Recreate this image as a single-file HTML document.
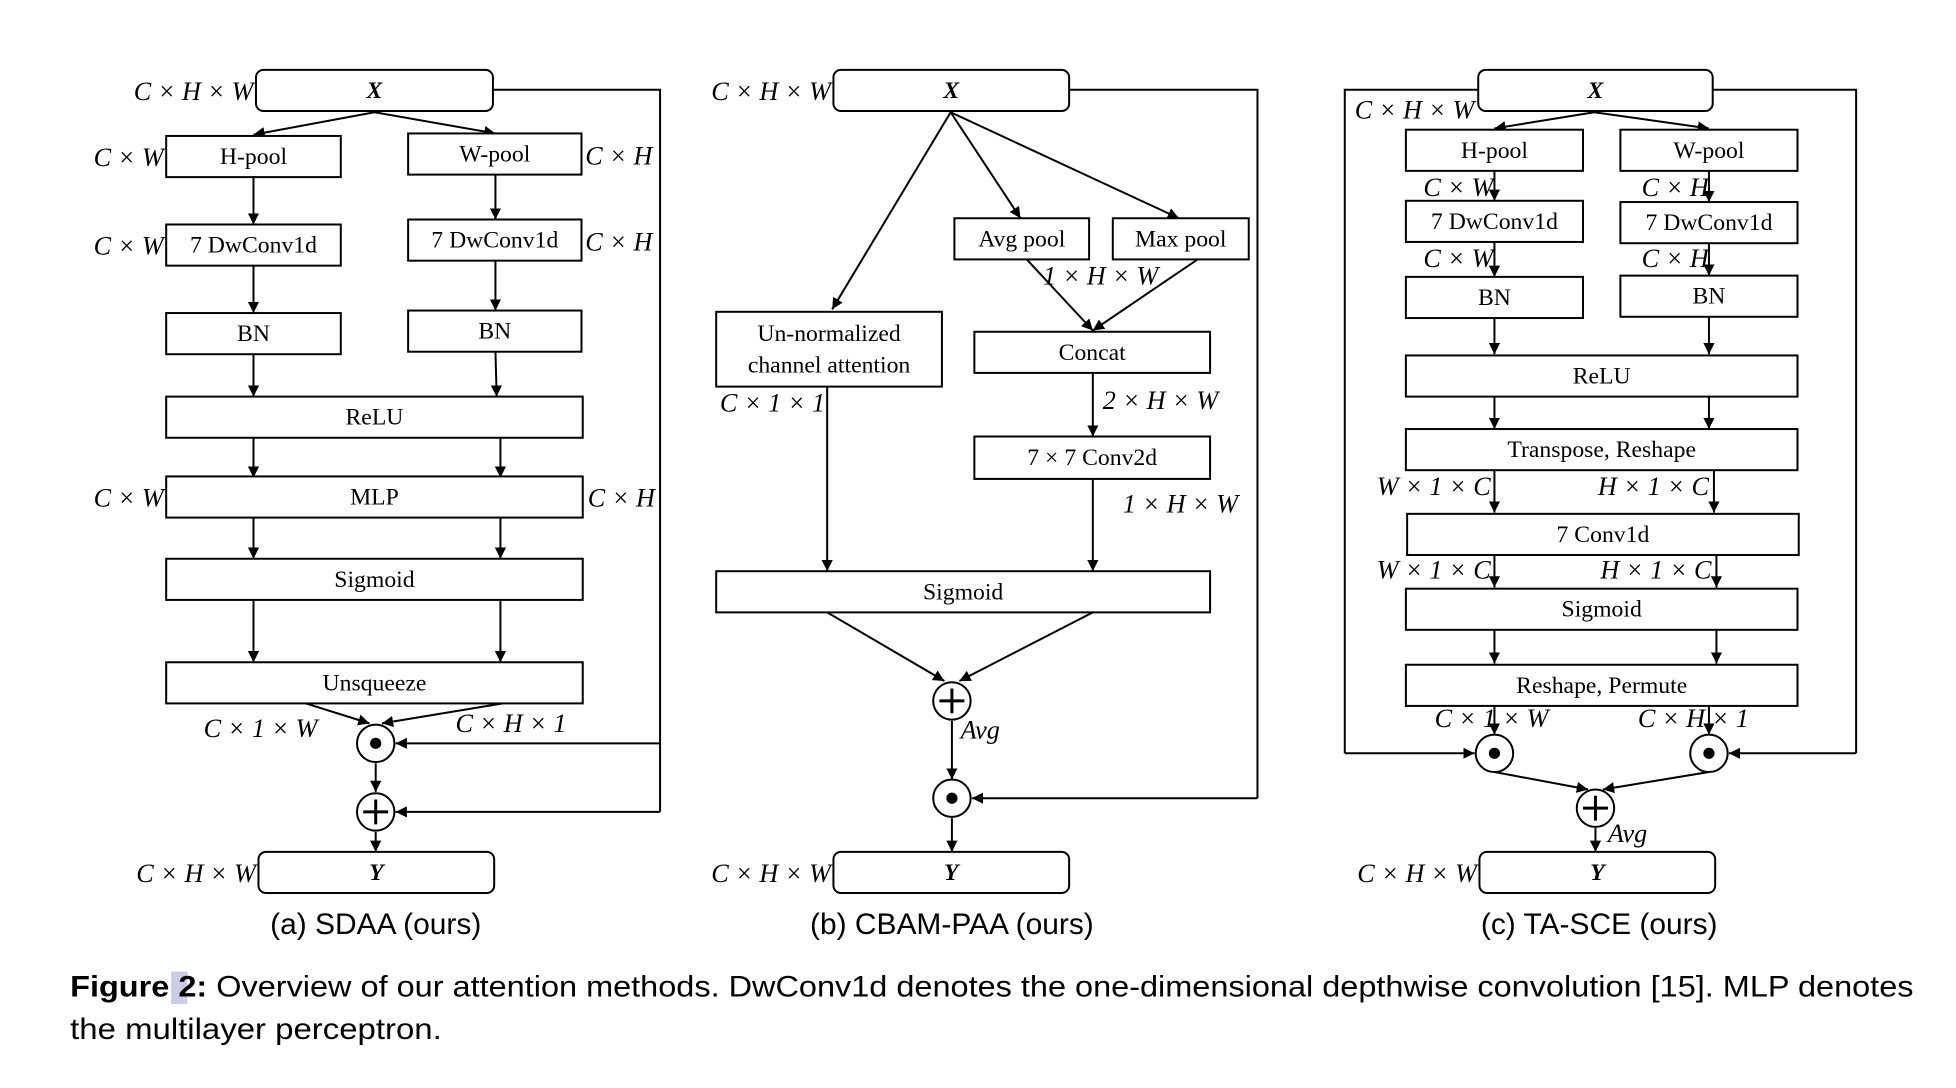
<!DOCTYPE html>
<html><head><meta charset="utf-8">
<style>
html,body{margin:0;padding:0;background:#fff;}
svg{display:block;}
.bx{font-family:"Liberation Serif",serif;font-size:19px;fill:#000;}
.lb{font-family:"Liberation Serif",serif;font-style:italic;font-size:21px;fill:#000;}
.cap{font-family:"Liberation Sans",sans-serif;font-size:24px;fill:#000;}
</style></head>
<body>
<svg id="fig" width="1956" height="1088" viewBox="0 0 1560 868" xmlns="http://www.w3.org/2000/svg">
<defs><marker id="ah" viewBox="0 0 10 10" refX="10" refY="5" markerWidth="9" markerHeight="9" markerUnits="userSpaceOnUse" orient="auto"><path d="M0,0 L10,5 L0,10 z" fill="#000"/></marker></defs>
<g id="root" transform="scale(0.995)"></g>
</svg>
<script>
const NS='http://www.w3.org/2000/svg';
const root=document.getElementById('root');
function mk(tag,attrs,name,parent){
  const el=document.createElementNS(NS,tag);
  for(const k in attrs) el.setAttribute(k,attrs[k]);
  
  
  (parent||root).appendChild(el);
  return el;
}
function box(x1,y1,x2,y2,label,name,round,bold){
  const g=mk('g',{},name);
  mk('rect',{x:x1,y:y1,width:x2-x1,height:y2-y1,rx:round?6:0,fill:'#fff',stroke:'#000','stroke-width':1.6},name+'-border',g);
  const lines=label.split('\n');
  const cy=(y1+y2)/2, n=lines.length;
  lines.forEach((t,i)=>{
    const tx=mk('text',{x:(x1+x2)/2,y:cy+6+(i-(n-1)/2)*25,'text-anchor':'middle',class:'bx','font-weight':bold?'bold':'normal','font-style':bold?'italic':'normal'},name+'-label',g);
    tx.textContent=t;
  });
}
function arr(pts,name){
  mk('polyline',{points:pts.map(p=>p.join(',')).join(' '),fill:'none',stroke:'#000','stroke-width':1.6,'marker-end':'url(#ah)'},name);
}
function line(pts,name){
  mk('polyline',{points:pts.map(p=>p.join(',')).join(' '),fill:'none',stroke:'#000','stroke-width':1.6},name);
}
function lab(x,y,t,name,anchor){
  const tx=mk('text',{x:x,y:y,'text-anchor':anchor||'start',class:'lb'},name);
  tx.textContent=t;
}
function dot(cx,cy,name){
  const g=mk('g',{},name);
  mk('circle',{cx:cx,cy:cy,r:15,fill:'#fff',stroke:'#000','stroke-width':1.6},name+'-ring',g);
  mk('circle',{cx:cx,cy:cy,r:4.5,fill:'#000'},name+'-center',g);
}
function plus(cx,cy,name){
  const g=mk('g',{},name);
  mk('circle',{cx:cx,cy:cy,r:15,fill:'#fff',stroke:'#000','stroke-width':1.6},name+'-ring',g);
  mk('path',{d:`M${cx-10},${cy} H${cx+10} M${cx},${cy-10} V${cy+10}`,stroke:'#000','stroke-width':2.4},name+'-cross',g);
}
function cap(x,y,t,name){
  const tx=mk('text',{x:x,y:y,'text-anchor':'middle',class:'cap'},name);
  tx.textContent=t;
}
const T='\u00d7';
/* ---------- Panel (a) SDAA ---------- */
line([[395,72],[529,72],[529,651]],'a-skip-line');
arr([[529,596],[317,596]],'a-skip-to-mul');
arr([[529,651],[317,651]],'a-skip-to-add');
box(205,56,395,89,'X','a-input-x',true,true);
lab(203,80,`C ${T} H ${T} W`,'a-input-shape','end');
arr([[300,90],[203,108]],'a-arrow-x-hpool');
arr([[300,90],[397,107]],'a-arrow-x-wpool');
box(133,109,273,142,'H-pool','a-hpool');
box(327,107,466,140,'W-pool','a-wpool');
lab(131,133,`C ${T} W`,'a-hpool-shape','end');
lab(469,132,`C ${T} H`,'a-wpool-shape');
arr([[203,142],[203,180]],'a-arrow-h1');
arr([[397,140],[397,176]],'a-arrow-w1');
box(133,180,273,213,'7 DwConv1d','a-dwconv-h');
box(327,176,466,209,'7 DwConv1d','a-dwconv-w');
lab(131,204,`C ${T} W`,'a-dwconv-h-shape','end');
lab(469,201,`C ${T} H`,'a-dwconv-w-shape');
arr([[203,213],[203,251]],'a-arrow-h2');
arr([[397,209],[397,249]],'a-arrow-w2');
box(133,251,273,284,'BN','a-bn-h');
box(327,249,466,282,'BN','a-bn-w');
arr([[203,284],[203,318]],'a-arrow-h3');
arr([[397,282],[398,318]],'a-arrow-w3');
box(133,318,467,351,'ReLU','a-relu');
arr([[203,351],[203,383]],'a-arrow-h4');
arr([[401,351],[401,383]],'a-arrow-w4');
box(133,382,467,415,'MLP','a-mlp');
lab(131,406,`C ${T} W`,'a-mlp-shape-left','end');
lab(471,406,`C ${T} H`,'a-mlp-shape-right');
arr([[203,415],[203,448]],'a-arrow-h5');
arr([[401,415],[401,448]],'a-arrow-w5');
box(133,448,467,481,'Sigmoid','a-sigmoid');
arr([[203,481],[203,531]],'a-arrow-h6');
arr([[401,481],[401,531]],'a-arrow-w6');
box(133,531,467,564,'Unsqueeze','a-unsqueeze');
arr([[245,564],[296,580]],'a-arrow-unsq-left');
arr([[403,564],[306,580]],'a-arrow-unsq-right');
lab(163,591,`C ${T} 1 ${T} W`,'a-shape-c1w');
lab(365,587,`C ${T} H ${T} 1`,'a-shape-ch1');
dot(301,596,'a-multiply');
arr([[301,612],[301,635]],'a-arrow-mul-add');
plus(301,651,'a-add');
arr([[301,667],[301,683]],'a-arrow-add-y');
box(207,683,396,716,'Y','a-output-y',true,true);
lab(205,707,`C ${T} H ${T} W`,'a-output-shape','end');
cap(301,749,'(a) SDAA (ours)','a-caption');
/* ---------- Panel (b) CBAM-PAA ---------- */
line([[857,72],[1008,72],[1008,640]],'b-skip-line');
arr([[1008,640],[779,640]],'b-skip-to-mul');
box(668,56,857,89,'X','b-input-x',true,true);
lab(666,80,`C ${T} H ${T} W`,'b-input-shape','end');
arr([[762,90],[667,248]],'b-arrow-x-channel');
arr([[762,90],[818,175]],'b-arrow-x-avgpool');
arr([[762,90],[945,175]],'b-arrow-x-maxpool');
box(765,175,873,208,'Avg pool','b-avgpool');
box(892,175,1001,208,'Max pool','b-maxpool');
arr([[823,208],[876,265]],'b-arrow-avg-concat');
arr([[960,208],[876,265]],'b-arrow-max-concat');
lab(836,228,`1 ${T} H ${T} W`,'b-pool-shape');
box(574,250,755,310,'Un-normalized\nchannel attention','b-channel-attention');
lab(577,330,`C ${T} 1 ${T} 1`,'b-channel-shape');
arr([[663,310],[663,458]],'b-arrow-channel-sigmoid');
box(781,266,970,299,'Concat','b-concat');
arr([[876,299],[876,350]],'b-arrow-concat-conv');
lab(884,328,`2 ${T} H ${T} W`,'b-concat-shape');
box(781,350,970,384,`7 ${T} 7 Conv2d`,'b-conv2d');
arr([[876,384],[876,458]],'b-arrow-conv-sigmoid');
lab(900,411,`1 ${T} H ${T} W`,'b-conv-shape');
box(574,458,970,491,'Sigmoid','b-sigmoid');
arr([[663,491],[757,546]],'b-arrow-sig-add-left');
arr([[876,491],[769,546]],'b-arrow-sig-add-right');
plus(763,562,'b-add-avg');
lab(770,592,'Avg','b-avg-label');
arr([[763,578],[763,625]],'b-arrow-add-mul');
dot(763,640,'b-multiply');
arr([[763,656],[763,683]],'b-arrow-mul-y');
box(668,683,857,716,'Y','b-output-y',true,true);
lab(666,707,`C ${T} H ${T} W`,'b-output-shape','end');
cap(763,749,'(b) CBAM-PAA (ours)','b-caption');
/* ---------- Panel (c) TA-SCE ---------- */
line([[1185,72],[1078,72],[1078,604]],'c-skip-left-line');
arr([[1078,604],[1182,604]],'c-skip-left-arrow');
line([[1373,72],[1488,72],[1488,604]],'c-skip-right-line');
arr([[1488,604],[1386,604]],'c-skip-right-arrow');
box(1185,56,1373,89,'X','c-input-x',true,true);
lab(1086,95,`C ${T} H ${T} W`,'c-input-shape');
arr([[1278,90],[1198,103]],'c-arrow-x-hpool');
arr([[1278,90],[1370,103]],'c-arrow-x-wpool');
box(1127,104,1269,137,'H-pool','c-hpool');
box(1299,104,1441,137,'W-pool','c-wpool');
arr([[1198,137],[1198,161]],'c-arrow-h1');
arr([[1370,137],[1370,162]],'c-arrow-w1');
lab(1141,157,`C ${T} W`,'c-hpool-shape');
lab(1316,157,`C ${T} H`,'c-wpool-shape');
box(1127,161,1269,194,'7 DwConv1d','c-dwconv-h');
box(1299,162,1441,195,'7 DwConv1d','c-dwconv-w');
arr([[1198,194],[1198,222]],'c-arrow-h2');
arr([[1370,195],[1370,221]],'c-arrow-w2');
lab(1141,214,`C ${T} W`,'c-dwconv-h-shape');
lab(1316,214,`C ${T} H`,'c-dwconv-w-shape');
box(1127,222,1269,255,'BN','c-bn-h');
box(1299,221,1441,254,'BN','c-bn-w');
arr([[1198,255],[1198,284]],'c-arrow-h3');
arr([[1370,254],[1370,284]],'c-arrow-w3');
box(1127,285,1441,318,'ReLU','c-relu');
arr([[1198,318],[1198,344]],'c-arrow-h4');
arr([[1370,318],[1370,344]],'c-arrow-w4');
box(1127,344,1441,377,'Transpose, Reshape','c-transpose-reshape');
arr([[1198,377],[1198,411]],'c-arrow-h5');
arr([[1374,377],[1374,411]],'c-arrow-w5');
lab(1195,397,`W ${T} 1 ${T} C`,'c-transpose-shape-left','end');
lab(1370,397,`H ${T} 1 ${T} C`,'c-transpose-shape-right','end');
box(1128,412,1442,445,'7 Conv1d','c-conv1d');
arr([[1198,445],[1198,471]],'c-arrow-h6');
arr([[1376,445],[1376,471]],'c-arrow-w6');
lab(1195,464,`W ${T} 1 ${T} C`,'c-conv1d-shape-left','end');
lab(1372,464,`H ${T} 1 ${T} C`,'c-conv1d-shape-right','end');
box(1127,472,1441,505,'Sigmoid','c-sigmoid');
arr([[1198,505],[1198,532]],'c-arrow-h7');
arr([[1376,505],[1376,532]],'c-arrow-w7');
box(1127,533,1441,566,'Reshape, Permute','c-reshape-permute');
arr([[1198,566],[1198,589]],'c-arrow-h8');
arr([[1370,566],[1370,589]],'c-arrow-w8');
lab(1150,583,`C ${T} 1 ${T} W`,'c-shape-c1w');
lab(1313,583,`C ${T} H ${T} 1`,'c-shape-ch1');
dot(1198,604,'c-multiply-left');
dot(1370,604,'c-multiply-right');
arr([[1198,619],[1273,633]],'c-arrow-mul-left-add');
arr([[1370,619],[1285,633]],'c-arrow-mul-right-add');
plus(1279,648,'c-add-avg');
lab(1289,675,'Avg','c-avg-label');
arr([[1279,664],[1279,683]],'c-arrow-add-y');
box(1186,683,1375,716,'Y','c-output-y',true,true);
lab(1184,707,`C ${T} H ${T} W`,'c-output-shape','end');
cap(1282,749,'(c) TA-SCE (ours)','c-caption');
/* ---------- Figure caption ---------- */
const hl=mk('rect',{x:137,y:779,width:13,height:26,fill:'#c9cde6'},'figure-number-highlight');
const c1=mk('text',{x:56,y:799,class:'cap',textLength:1478,lengthAdjust:'spacingAndGlyphs'},'figure-caption-line1');
c1.innerHTML='<tspan font-weight="bold">Figure 2:</tspan> Overview of our attention methods. DwConv1d denotes the one-dimensional depthwise convolution [15]. MLP denotes';
const c2=mk('text',{x:56,y:833,class:'cap',textLength:298,lengthAdjust:'spacingAndGlyphs'},'figure-caption-line2');
c2.textContent='the multilayer perceptron.';
</script>
</body></html>
